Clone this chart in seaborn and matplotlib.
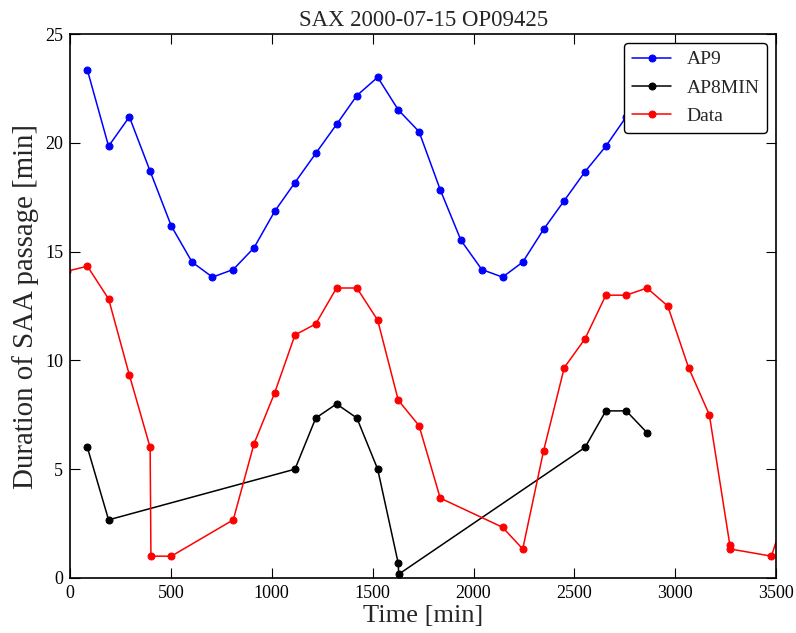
import numpy as np
import pandas as pd
import matplotlib
matplotlib.use("Agg")
import matplotlib.pyplot as plt
import seaborn as sns

# ---- data ----
ap9_time = [86, 191, 294, 397, 502, 605, 706, 809, 912, 1014, 1115, 1218, 1321,
            1422, 1525, 1627, 1730, 1835, 1938, 2041, 2144, 2244, 2347, 2450,
            2553, 2656, 2757, 2860]
ap9_dur = [23.35, 19.85, 21.2, 18.7, 16.18, 14.52, 13.83, 14.18, 15.18, 16.85,
           18.18, 19.52, 20.85, 22.18, 23.02, 21.52, 20.52, 17.85, 15.52, 14.18,
           13.83, 14.52, 16.02, 17.35, 18.68, 19.85, 21.2, 22.4]

ap8_time = [86, 191, 1115, 1218, 1321, 1422, 1525, 1627, 1629, 2553, 2656, 2757, 2860]
ap8_dur = [6.0, 2.67, 5.0, 7.35, 8.0, 7.35, 5.0, 0.67, 0.17, 6.0, 7.68, 7.68, 6.68]

data_time = [-17, 86, 191, 294, 397, 401, 502, 809, 912, 1014, 1115, 1218, 1321,
             1422, 1525, 1627, 1730, 1835, 2144, 2244, 2347, 2450, 2553, 2656,
             2757, 2860, 2963, 3066, 3169, 3271, 3273, 3477, 3580]
data_dur = [14.1, 14.33, 12.83, 9.33, 6.0, 1.0, 1.0, 2.67, 6.17, 8.5, 11.17,
            11.68, 13.33, 13.33, 11.85, 8.17, 7.0, 3.67, 2.33, 1.33, 5.83, 9.67,
            11.0, 13.0, 13.0, 13.33, 12.5, 9.67, 7.5, 1.5, 1.33, 1.0, 4.0]

series_names = ["AP9", "AP8MIN", "Data"]
series_colors = ["blue", "black", "red"]

frames = []
for name, t, d in zip(series_names, [ap9_time, ap8_time, data_time],
                      [ap9_dur, ap8_dur, data_dur]):
    frames.append(pd.DataFrame({"Time": t, "Duration": d, "Series": name,
                                "order": np.arange(len(t))}))
df = pd.concat(frames, ignore_index=True)

sns.set_style("ticks")
plt.rcParams["font.family"] = ["Liberation Serif", "DejaVu Serif"]
plt.rcParams["mathtext.fontset"] = "stix"

fig = plt.figure(figsize=(7.96, 6.33), dpi=100)
ax = fig.add_axes([0.088, 0.087, 0.887, 0.859])

for name, col in zip(series_names, series_colors):
    sub = df[df["Series"] == name]
    sns.lineplot(data=sub, x="Time", y="Duration", sort=False, estimator=None,
                 color=col, marker="o", markersize=5, markeredgecolor=col,
                 linewidth=1.1, label=name, ax=ax)

ax.set_xlim(0, 3500)
ax.set_ylim(0, 25)
ax.set_xticks(np.arange(0, 3501, 500))
ax.set_yticks(np.arange(0, 26, 5))
ax.tick_params(direction="in", top=True, right=True, length=7, width=0.8,
               labelsize=13, pad=5, colors="black")
for s in ax.spines.values():
    s.set_visible(True)
    s.set_linewidth(1.2)
    s.set_color("black")

ax.set_title("SAX 2000-07-15 OP09425", fontsize=16.4, pad=6)
ax.set_xlabel("Time [min]", fontsize=19, labelpad=2)
ax.set_ylabel("Duration of SAA passage [min]", fontsize=20.8, labelpad=4)

leg = ax.legend(loc="upper right", fontsize=14, frameon=True, fancybox=True,
                framealpha=1, edgecolor="black", borderpad=0.4,
                handlelength=2.0, labelspacing=0.55, borderaxespad=0.45)
leg.get_frame().set_linewidth(1.0)

fig.savefig("out.png", dpi=100)
